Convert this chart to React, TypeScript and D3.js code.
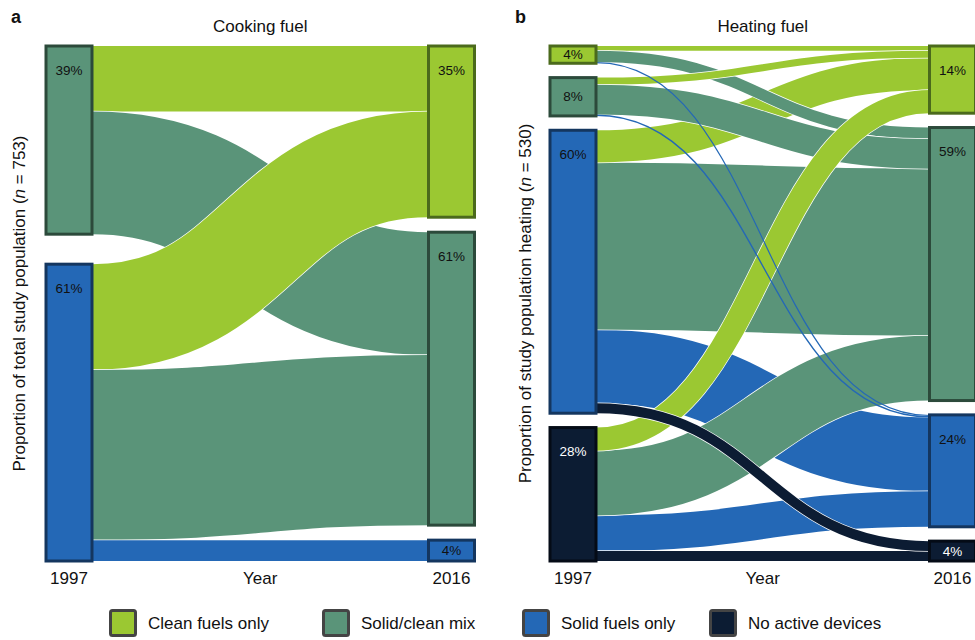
import React from "react";
import * as d3 from "d3";

// ---------- data ----------
const FUELS = ["Clean fuels only", "Solid/clean mix", "Solid fuels only", "No active devices"];
const FILL = ["#9bc832", "#5a9479", "#2468b6", "#0c1c33"];
const EDGE = ["#4b6a1c", "#2c4a3b", "#14365f", "#040b16"];
const PCT_COLOR = ["#111111", "#111111", "#111111", "#ffffff"];

// Cooking fuel (n = 753), values in % of population
const COOK_1997 = [1, 2];
const COOK_1997_PCT = ["39%", "61%"];
const COOK_2016 = [0, 1, 2];
const COOK_2016_PCT = ["35%", "61%", "4%"];
const COOK_FROM = [1, 1, 2, 2, 2];
const COOK_TO = [0, 1, 0, 1, 2];
const COOK_VALUE = [13.5, 25.3, 21.8, 35.1, 4.3];

// Heating fuel (n = 530), values in % of population (listed in drawing order)
const HEAT_1997 = [0, 1, 2, 3];
const HEAT_1997_PCT = ["4%", "8%", "60%", "28%"];
const HEAT_2016 = [0, 1, 2, 3];
const HEAT_2016_PCT = ["14%", "59%", "24%", "4%"];
const HEAT_FROM = [2, 2, 2, 0, 0, 1, 1, 3, 3, 3, 0, 1, 3, 2];
const HEAT_TO = [2, 1, 0, 0, 1, 0, 1, 2, 1, 0, 2, 2, 3, 3];
const HEAT_VALUE = [15.6, 35.3, 6.8, 1.0, 2.4, 1.5, 6.3, 7.5, 13.7, 4.9, 0.25, 0.3, 2.1, 2.1];

// ---------- layout constants ----------
const W = 975;
const H = 640;
const TOP = 46;
const BOTTOM = 561;
const NODE_W = 46;
const FONT = "'Liberation Sans', Arial, Helvetica, sans-serif";
const LEGEND_X = [109, 322, 522, 709];

type NodeBox = { id: number; y0: number; y1: number; label: string };
type LinkShape = { d: string; color: string; width: number };

function layoutAlluvial(
  leftIds: number[], leftPct: string[],
  rightIds: number[], rightPct: string[],
  from: number[], to: number[], value: number[],
  pad: number, xLeft: number, xRight: number
) {
  const leftTot = leftIds.map((id) => d3.sum(value.filter((_, i) => from[i] === id)));
  const rightTot = rightIds.map((id) => d3.sum(value.filter((_, i) => to[i] === id)));
  const total = Math.max(d3.sum(leftTot), d3.sum(rightTot));
  const k = d3.scaleLinear().domain([0, total]).range([0, BOTTOM - TOP - pad]);

  const stack = (ids: number[], tots: number[], labels: string[]) => {
    const gap = ids.length > 1 ? pad / (ids.length - 1) : 0;
    let y = TOP;
    return ids.map((id, i) => {
      const box = { id, y0: y, y1: y + k(tots[i]), label: labels[i] };
      y = box.y1 + gap;
      return box;
    });
  };
  const left: NodeBox[] = stack(leftIds, leftTot, leftPct);
  const right: NodeBox[] = stack(rightIds, rightTot, rightPct);

  const idx = d3.range(value.length);
  const sy: number[] = new Array(value.length);
  const ty: number[] = new Array(value.length);
  left.forEach((n) => {
    let y = n.y0;
    idx.filter((i) => from[i] === n.id)
      .sort((a, b) => rightIds.indexOf(to[a]) - rightIds.indexOf(to[b]))
      .forEach((i) => { sy[i] = y; y += k(value[i]); });
  });
  right.forEach((n) => {
    let y = n.y0;
    idx.filter((i) => to[i] === n.id)
      .sort((a, b) => leftIds.indexOf(from[a]) - leftIds.indexOf(from[b]))
      .forEach((i) => { ty[i] = y; y += k(value[i]); });
  });

  const x0 = xLeft + NODE_W;
  const x1 = xRight;
  const link = d3.linkHorizontal<{ source: [number, number]; target: [number, number] }, [number, number]>();
  const links: LinkShape[] = idx.map((i) => {
    const h = k(value[i]);
    const d = link({ source: [x0, sy[i] + h / 2], target: [x1, ty[i] + h / 2] }) as string;
    return { d, color: FILL[to[i]], width: h };
  });
  return { left, right, links };
}

function Panel(props: {
  letter: string; title: string; yLabel: string; n: string;
  xLeft: number; xRight: number; yLabelX: number; pad: number;
  leftIds: number[]; leftPct: string[]; rightIds: number[]; rightPct: string[];
  from: number[]; to: number[]; value: number[];
}) {
  const { left, right, links } = layoutAlluvial(
    props.leftIds, props.leftPct, props.rightIds, props.rightPct,
    props.from, props.to, props.value, props.pad, props.xLeft, props.xRight
  );
  const cx = (props.xLeft + props.xRight + NODE_W) / 2;
  const midY = (TOP + BOTTOM) / 2;
  const node = (n: NodeBox, x: number, key: string) => {
    const ly = Math.min(n.y0 + 24, (n.y0 + n.y1) / 2);
    return (
      <g key={key}>
        <rect x={x} y={n.y0} width={NODE_W} height={n.y1 - n.y0}
          fill={FILL[n.id]} stroke={EDGE[n.id]} strokeWidth={3} />
        <text x={x + NODE_W / 2} y={ly} dy="0.35em" textAnchor="middle"
          fontSize={13.5} fill={PCT_COLOR[n.id]}>{n.label}</text>
      </g>
    );
  };
  return (
    <g>
      <text x={props.xLeft - 35} y={23} fontSize={18} fontWeight="bold">{props.letter}</text>
      <text x={cx} y={32} fontSize={17} textAnchor="middle">{props.title}</text>
      <text transform={`translate(${props.yLabelX},${midY}) rotate(-90)`} textAnchor="middle" fontSize={17}>
        {props.yLabel}(<tspan fontStyle="italic">n</tspan> = {props.n})
      </text>
      {links.map((l, i) => (
        <g key={i} fill="none">
          {l.width > 3 && <path d={l.d} stroke="#ffffff" strokeWidth={l.width + 1.4} />}
          <path d={l.d} stroke={l.color} strokeWidth={l.width} />
        </g>
      ))}
      {left.map((n, i) => node(n, props.xLeft, "l" + i))}
      {right.map((n, i) => node(n, props.xRight, "r" + i))}
      <text x={props.xLeft + NODE_W / 2} y={584} fontSize={17} textAnchor="middle">1997</text>
      <text x={cx} y={584} fontSize={17} textAnchor="middle">Year</text>
      <text x={props.xRight + NODE_W / 2} y={584} fontSize={17} textAnchor="middle">2016</text>
    </g>
  );
}

export default function App() {
  return (
    <svg width={W} height={H} viewBox={`0 0 ${W} ${H}`}
      style={{ position: "absolute", left: 0, top: 0, background: "#fff" }}
      fontFamily={FONT} fill="#111">
      <Panel letter="a" title="Cooking fuel" yLabel="Proportion of total study population "
        n="753" xLeft={46} xRight={428.5} yLabelX={25} pad={30}
        leftIds={COOK_1997} leftPct={COOK_1997_PCT} rightIds={COOK_2016} rightPct={COOK_2016_PCT}
        from={COOK_FROM} to={COOK_TO} value={COOK_VALUE} />
      <Panel letter="b" title="Heating fuel" yLabel="Proportion of study population heating "
        n="530" xLeft={550} xRight={929.5} yLabelX={531} pad={43}
        leftIds={HEAT_1997} leftPct={HEAT_1997_PCT} rightIds={HEAT_2016} rightPct={HEAT_2016_PCT}
        from={HEAT_FROM} to={HEAT_TO} value={HEAT_VALUE} />
      {FUELS.map((f, i) => (
        <g key={f} transform={`translate(${LEGEND_X[i]},609)`}>
          <rect x={1.5} y={1.5} width={25} height={25} rx={2}
            fill={FILL[i]} stroke="#444444" strokeWidth={3} />
          <text x={39} y={20} fontSize={17}>{f}</text>
        </g>
      ))}
    </svg>
  );
}
